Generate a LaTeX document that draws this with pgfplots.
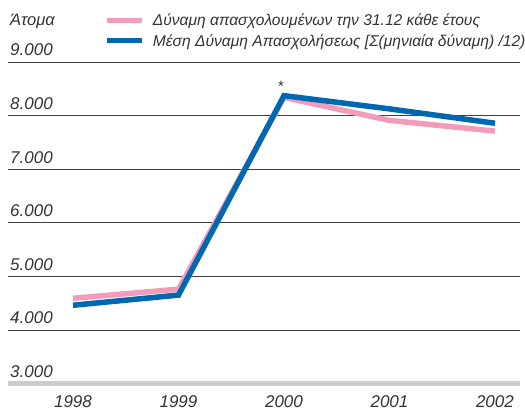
\documentclass[border=0pt]{standalone}
\usepackage{pgfplots}
\pgfplotsset{compat=1.18}
\usepackage{fontspec}
\setmainfont{Liberation Sans}
\definecolor{txt}{HTML}{333333}
\definecolor{pinkl}{HTML}{F39BBA}
\definecolor{bluel}{HTML}{0067B1}
\definecolor{band}{HTML}{CCCCCC}
\begin{document}
\begin{tikzpicture}
\path[use as bounding box] (0,0) rectangle (525pt,412pt);
\begin{axis}[
  at={(8pt,28.5pt)}, anchor=south west,
  scale only axis, width=512pt, height=321.5pt,
  xmin=1997.384, xmax=2002.237, ymin=3000, ymax=9000,
  axis x line*=bottom, axis y line*=left,
  x axis line style={line width=5pt, draw=band},
  y axis line style={draw=none},
  major tick length=0pt,
  xtick={1998,...,2002}, xticklabels={1998,1999,2000,2001,2002},
  ytick={4000,5000,6000,7000,8000,9000},
  extra y ticks={3000}, extra y tick style={grid=none},
  ymajorgrids, grid style={line width=0.8pt, draw=black!75},
  tick label style={font=\fontsize{17}{20}\selectfont\itshape, text=txt},
  yticklabel style={anchor=base west, inner sep=0pt, xshift=2pt, yshift=6pt},
  xticklabel style={anchor=base, inner sep=0pt, yshift=-24.5pt},
  every axis y label/.style={at={(axis description cs:0,1.137)}, anchor=west, inner sep=0pt, xshift=2pt, yshift=-3pt, font=\fontsize{16.5}{19}\selectfont\itshape, text=txt},
  ylabel={Άτομα},
  legend style={at={(axis description cs:0.183,1.162)}, anchor=north west, draw=none, fill=none, font=\fontsize{15.6}{19}\selectfont\itshape, text=txt, row sep=3pt,
    /tikz/every odd column/.style={column sep=6pt}},
  legend cell align=left,
  legend image code/.code={\draw[#1, line width=5pt] (0pt,0pt) -- (35pt,0pt);},
  /pgf/number format/1000 sep={.},
  /pgf/number format/assume math mode=true,
]
\addplot[pinkl, line width=5.5pt] coordinates {(1998,4590) (1999,4760) (2000,8340) (2001,7910) (2002,7710)};
\addlegendentry{Δύναμη απασχολουμένων την 31.12 κάθε έτους}
\addplot[bluel, line width=5.5pt] coordinates {(1998,4460) (1999,4650) (2000,8372) (2001,8125) (2002,7857)};
\addlegendentry{Μέση Δύναμη Απασχολήσεως [Σ(μηνιαία δύναμη) /12)}
\node[font=\fontsize{15}{15}\selectfont, text=txt, anchor=center] at (axis cs:2000,8372) [xshift=-3pt, yshift=9pt] {*};
\end{axis}
\end{tikzpicture}
\end{document}
